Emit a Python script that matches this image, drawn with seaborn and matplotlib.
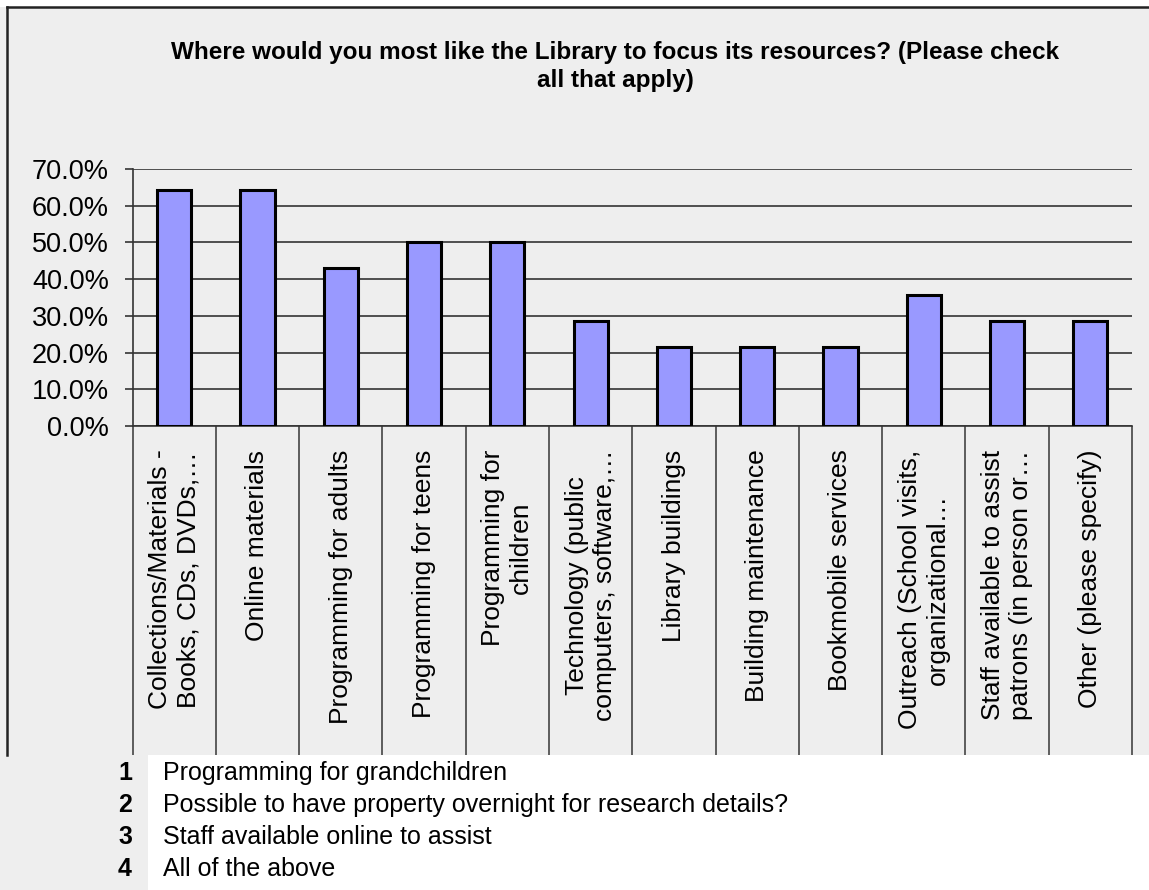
import matplotlib
matplotlib.use("Agg")
import matplotlib.pyplot as plt
import seaborn as sns
import numpy as np
import pandas as pd
from matplotlib.patches import Rectangle
from matplotlib.lines import Line2D

categories = [
    "Collections/Materials -\nBooks, CDs, DVDs,…",
    "Online materials",
    "Programming for adults",
    "Programming for teens",
    "Programming for\nchildren",
    "Technology (public\ncomputers, software,…",
    "Library buildings",
    "Building maintenance",
    "Bookmobile services",
    "Outreach (School visits,\norganizational…",
    "Staff available to assist\npatrons (in person or…",
    "Other (please specify)",
]
values = [0.643, 0.643, 0.429, 0.500, 0.500, 0.286, 0.214, 0.214, 0.214, 0.357, 0.286, 0.286]
ytick_values = [0.0, 0.1, 0.2, 0.3, 0.4, 0.5, 0.6, 0.7]
ytick_labels = ["0.0%", "10.0%", "20.0%", "30.0%", "40.0%", "50.0%", "60.0%", "70.0%"]
title_lines = ["Where would you most like the Library to focus its resources? (Please check",
               "all that apply)"]
other_numbers = ["1", "2", "3", "4"]
other_texts = ["Programming for grandchildren",
               "Possible to have property overnight for research details?",
               "Staff available online to assist",
               "All of the above"]

W, H = 1149, 890
FONT = "Liberation Sans"
plt.rcParams['font.family'] = [FONT, 'DejaVu Sans']

fig = plt.figure(figsize=(W / 100, H / 100), dpi=100)
fig.patch.set_facecolor("white")

def fx(px):
    return px / W

def fy(py):
    return 1 - py / H

gray = "#EEEEEE"
# chart frame background
fig.patches.append(Rectangle((0, fy(755)), 1.0, fy(7) - fy(755), transform=fig.transFigure,
                             facecolor=gray, edgecolor="none", zorder=-2))
fig.patches.append(Rectangle((0, 0), fx(148), fy(755), transform=fig.transFigure,
                             facecolor=gray, edgecolor="none", zorder=-2))
fig.lines.append(Line2D([fx(7), fx(7)], [fy(7), fy(755)], transform=fig.transFigure,
                        color="#222222", lw=1.8, zorder=-1))
fig.lines.append(Line2D([fx(7), 1.0], [fy(7), fy(7)], transform=fig.transFigure,
                        color="#222222", lw=1.8, zorder=-1))

left, right, top, bottom = 132.5, 1132, 169, 426
ax = fig.add_axes([fx(left), fy(bottom), fx(right) - fx(left), fy(top) - fy(bottom)])
ax.set_facecolor("none")
ax.set_zorder(1)

df = pd.DataFrame({"category": categories, "value": values})
sns.barplot(data=df, x="category", y="value", color="#9999FF", saturation=1,
            edgecolor="black", linewidth=2.2, width=0.41, ax=ax, zorder=3)

n = len(categories)
ax.set_xlim(-0.5, n - 0.5)
ax.set_ylim(0, 0.7)
ax.set_yticks(ytick_values)
ax.set_yticklabels(ytick_labels)
ax.yaxis.grid(True, color="#333333", lw=1.2, zorder=0)
ax.set_axisbelow(True)
for s in ["top", "right"]:
    ax.spines[s].set_visible(False)
ax.spines["left"].set_color("#333333")
ax.spines["left"].set_linewidth(1.2)
ax.spines["bottom"].set_color("#333333")
ax.spines["bottom"].set_linewidth(1.2)
ax.tick_params(axis="y", length=6, width=1.2, color="#333333", pad=11, labelsize=19.5)
ax.set_xlabel("")
ax.set_ylabel("")

ax.set_xticks(np.arange(n))
ax.set_xticklabels(categories, rotation=90, ha="center", va="top",
                   multialignment="center", fontsize=19, linespacing=1.2)
ax.tick_params(axis="x", which="major", length=0, pad=17)
ax.set_xticks(np.arange(n + 1) - 0.5, minor=True)
sep_len_pt = (755 - bottom) * 72 / 100
ax.tick_params(axis="x", which="minor", length=sep_len_pt, width=1.2, color="#444444",
               direction="out")

# title
fig.text(fx(615), fy(59), title_lines[0], ha="center", va="baseline",
         fontsize=17.5, fontweight="bold", color="black")
fig.text(fx(615), fy(87), title_lines[1], ha="center", va="baseline",
         fontsize=17.5, fontweight="bold", color="black")

# list of other answers
row_y = [773, 805, 837, 869]
for num, txt, yy in zip(other_numbers, other_texts, row_y):
    fig.text(fx(132), fy(yy), num, ha="right", va="center", fontsize=18,
             fontweight="bold", color="black")
    fig.text(fx(163), fy(yy), txt, ha="left", va="center", fontsize=18, color="black")

fig.savefig("out.png", dpi=100, facecolor=fig.get_facecolor())
